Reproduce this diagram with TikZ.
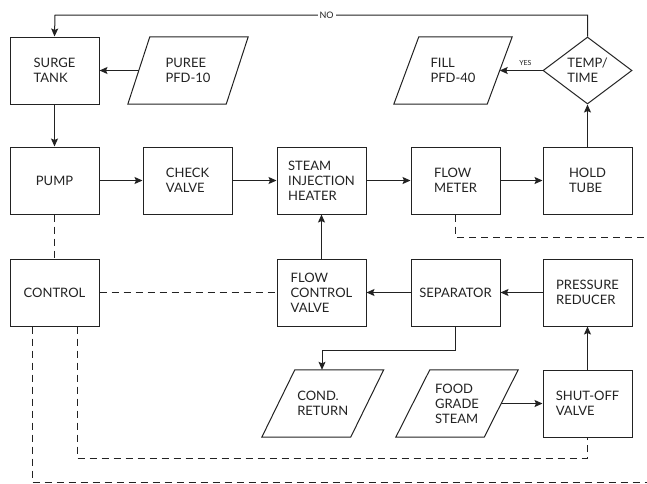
\documentclass[tikz,border=0pt]{standalone}
\usepackage{fontspec}
\setmainfont{Lato}
\usetikzlibrary{shapes.geometric,arrows.meta}
\definecolor{ink}{HTML}{222222}
\begin{document}
\begin{tikzpicture}[x=1pt,y=-1pt,
  every node/.style={font=\fontsize{13}{15}\selectfont, text=ink},
  box/.style={draw=ink, line width=1pt, minimum width=89pt, minimum height=67pt, align=left, inner sep=0pt},
  iobox/.style={minimum height=67pt, align=left, inner sep=0pt},
  dec/.style={draw=ink, line width=1pt, diamond, minimum width=89pt, minimum height=67pt, align=left, inner sep=0pt},
  flow/.style={draw=ink, line width=1pt, -{Stealth[length=8pt,width=7pt,inset=1.5pt]}},
  ctrl/.style={draw=ink, line width=1pt, dash pattern=on 7pt off 5pt},
  outline/.style={draw=ink, line width=1pt, line join=miter}
]
\useasboundingbox (0,0) rectangle (647,483);

% row 1
\node[box] (surge) at (54.5,70.5) {SURGE\\TANK};
\node[iobox, minimum width=98pt] (puree) at (188,70.5) {PUREE\\PFD-10};
\draw[outline] ([xshift=11pt]puree.north west) -- ([xshift=11pt]puree.north east) -- ([xshift=-11pt]puree.south east) -- ([xshift=-11pt]puree.south west) -- cycle;
\node[iobox, minimum width=93pt] (fill) at (453,70.5) {FILL\\PFD-40};
\draw[outline] ([xshift=12.5pt]fill.north west) -- ([xshift=12.5pt]fill.north east) -- ([xshift=-12.5pt]fill.south east) -- ([xshift=-12.5pt]fill.south west) -- cycle;
\node[dec] (temp) at (587.5,70.5) {TEMP/\\TIME};

% row 2
\node[box] (pump) at (54.5,180.5) {PUMP};
\node[box] (check) at (187.5,180.5) {CHECK\\VALVE};
\node[box] (heater) at (321.5,180.5) {STEAM\\INJECTION\\HEATER};
\node[box] (meter) at (455.5,180.5) {FLOW\\METER};
\node[box] (hold) at (587.5,180.5) {HOLD\\TUBE};

% row 3
\node[box] (control) at (54.5,292.5) {CONTROL};
\node[box] (fcv) at (321.5,292.5) {FLOW\\CONTROL\\VALVE};
\node[box] (sep) at (455.5,292.5) {SEPARATOR};
\node[box] (reducer) at (587.5,292.5) {PRESSURE\\REDUCER};

% row 4
\node[iobox, minimum width=88.5pt] (cond) at (322.75,403.5) {COND.\\RETURN};
\draw[outline] ([xshift=16.5pt]cond.north west) -- ([xshift=16.5pt]cond.north east) -- ([xshift=-16.5pt]cond.south east) -- ([xshift=-16.5pt]cond.south west) -- cycle;
\node[iobox, minimum width=88pt] (steam) at (457,403.5) {FOOD\\GRADE\\STEAM};
\draw[outline] ([xshift=17pt]steam.north west) -- ([xshift=17pt]steam.north east) -- ([xshift=-17pt]steam.south east) -- ([xshift=-17pt]steam.south west) -- cycle;
\node[box] (shutoff) at (587.5,403.5) {SHUT-OFF\\VALVE};

% flow connectors
\draw[flow] (puree.west) -- (surge.east);
\draw[flow] (surge.south) -- (pump.north);
\draw[flow] (pump.east) -- (check.west);
\draw[flow] (check.east) -- (heater.west);
\draw[flow] (heater.east) -- (meter.west);
\draw[flow] (meter.east) -- (hold.west);
\draw[flow] (hold.north) -- (temp.south);
\draw[flow] (temp.west) -- node[above=1pt, font=\fontsize{7}{8}\selectfont, pos=0.4] {YES} (fill.east);
\coordinate (noR) at (587.5,15);
\coordinate (noL) at (55,15);
\draw[flow] (temp.north) -- (noR) -- node[fill=white, inner sep=2pt, font=\fontsize{9}{10}\selectfont, pos=0.49] {NO} (noL) -- (surge.north);
\draw[flow] (fcv.north) -- (heater.south);
\draw[flow] (sep.west) -- (fcv.east);
\draw[flow] (reducer.west) -- (sep.east);
\draw[flow] (shutoff.north) -- (reducer.south);
\draw[flow] (steam.east) -- (shutoff.west);
\coordinate (condA) at (455.5,350);
\coordinate (condB) at (322,350);
\draw[flow] (sep.south) -- (condA) -- (condB) -- (cond.north -| condB);

% control (dashed) lines
\draw[ctrl] (pump.south) -- (control.north);
\draw[ctrl] (control.east) -- (fcv.west);
\coordinate (meterEnd) at (647,237);
\draw[ctrl] (meter.south) |- (meterEnd);
\coordinate (c1) at (77,458);
\draw[ctrl] (control.south -| c1) -- (c1) -| (shutoff.south);
\coordinate (c2) at (32,482);
\coordinate (c2end) at (647,482);
\draw[ctrl] (control.south -| c2) -- (c2) -- (c2end);
\end{tikzpicture}
\end{document}
